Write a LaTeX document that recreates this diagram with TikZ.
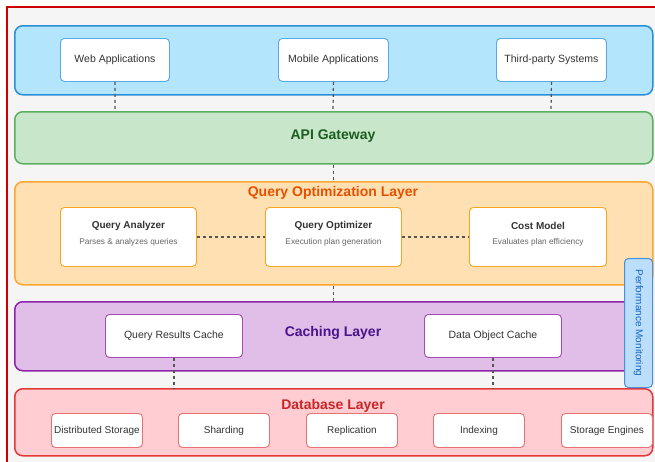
\documentclass[tikz,border=0pt]{standalone}
\usepackage{fontspec}
\setmainfont{Liberation Sans}
\begin{document}
\begin{tikzpicture}[x=1pt,y=-1pt,
  layer/.style={draw, line width=1.5pt, rounded corners=8pt, inner sep=0pt, anchor=north west},
  item/.style={draw, line width=0.9pt, rounded corners=4pt, fill=white, inner sep=0pt,
    anchor=north west, align=center, text=textdark, font=\fontsize{10.5}{12}\selectfont},
  dbitem/.style={item, draw=rbox, minimum width=91pt, minimum height=34pt, font=\fontsize{10}{12}\selectfont},
  title/.style={font=\bfseries\fontsize{14}{16}\selectfont, inner sep=0pt},
  link/.style={draw=linkgray, line width=1.2pt, dash pattern=on 3pt off 3pt}
]
\definecolor{framered}{HTML}{CC0000}
\definecolor{bgray}{HTML}{F5F5F5}
\definecolor{textdark}{HTML}{333333}
\definecolor{textsub}{HTML}{666666}
\definecolor{linkgray}{HTML}{555555}
\definecolor{cfill}{HTML}{B3E5FC}\definecolor{cline}{HTML}{2A8FD6}\definecolor{cbox}{HTML}{5AA9E0}
\definecolor{gfill}{HTML}{C8E6C9}\definecolor{gline}{HTML}{5CAF60}\definecolor{gtext}{HTML}{1B5E20}
\definecolor{ofill}{HTML}{FFE0B2}\definecolor{oline}{HTML}{FFA733}\definecolor{obox}{HTML}{F5A623}\definecolor{otext}{HTML}{E65100}
\definecolor{pfill}{HTML}{E1BEE7}\definecolor{pline}{HTML}{8E24AA}\definecolor{pbox}{HTML}{AB47BC}\definecolor{ptext}{HTML}{4A148C}
\definecolor{rfill}{HTML}{FFCDD2}\definecolor{rline}{HTML}{E53935}\definecolor{rbox}{HTML}{E57373}\definecolor{rtext}{HTML}{C62828}
\definecolor{mfill}{HTML}{BBDEFB}\definecolor{mline}{HTML}{4A90D9}\definecolor{mtext}{HTML}{1565C0}

\useasboundingbox (0,0) rectangle (655,461);
\begin{scope}
\clip (0,0) rectangle (655,461);
\fill[white] (0,0) rectangle (655,461);
\draw[framered, line width=2pt, fill=bgray] (7,7) rectangle (680,490);
\end{scope}

% client layer
\node[layer, draw=cline, fill=cfill, minimum width=638pt, minimum height=69pt] (clients) at (14,25) {};
\node[item, draw=cbox, minimum width=109pt, minimum height=43pt] (web) at (60,38) {Web Applications};
\node[item, draw=cbox, minimum width=110pt, minimum height=43pt] (mobile) at (278,38) {Mobile Applications};
\node[item, draw=cbox, minimum width=110pt, minimum height=43pt] (third) at (496,38) {Third-party Systems};

% gateway
\node[layer, draw=gline, fill=gfill, minimum width=638pt, minimum height=52pt] (gateway) at (14,111) {};
\node[title, text=gtext] (gwtitle) at (333,136.5) {API Gateway};

% query optimization layer
\node[layer, draw=oline, fill=ofill, minimum width=638pt, minimum height=103pt] (qol) at (14,181) {};
\node[title, text=otext] (qoltitle) at (333,192.5) {Query Optimization Layer};
\node[item, draw=obox, minimum width=136pt, minimum height=59pt] (analyzer) at (60,207) {};
\node[item, draw=obox, minimum width=136pt, minimum height=59pt] (optimizer) at (265,207) {};
\node[item, draw=obox, minimum width=137pt, minimum height=59pt] (cost) at (469,207) {};
\foreach \b/\t/\s in {analyzer/Query Analyzer/Parses \& analyzes queries,
                      optimizer/Query Optimizer/Execution plan generation,
                      cost/Cost Model/Evaluates plan efficiency}{
  \node[inner sep=0pt, text=textdark, font=\bfseries\fontsize{10}{12}\selectfont] (\b-t) at ([yshift=-19pt]\b.north) {\t};
  \node[inner sep=0pt, text=textsub, font=\fontsize{8.3}{10}\selectfont] (\b-s) at ([yshift=-35pt]\b.north) {\s};
}

% caching layer
\node[layer, draw=pline, fill=pfill, minimum width=626pt, minimum height=69pt] (cache) at (14,301) {};
\node[title, text=ptext] (cachetitle) at (333,332.5) {Caching Layer};
\node[item, draw=pbox, minimum width=137pt, minimum height=43pt] (qrc) at (105,314) {Query Results Cache};
\node[item, draw=pbox, minimum width=137pt, minimum height=43pt] (doc) at (424,314) {Data Object Cache};

% database layer
\node[layer, draw=rline, fill=rfill, minimum width=638pt, minimum height=67pt] (db) at (14,388) {};
\node[title, text=rtext] (dbtitle) at (333,405.5) {Database Layer};
\node[dbitem] (dist) at (51,413) {Distributed Storage};
\node[dbitem] (shard) at (178,413) {Sharding};
\node[dbitem] (repl) at (306,413) {Replication};
\node[dbitem] (index) at (433,413) {Indexing};
\node[dbitem] (engines) at (561,413) {Storage Engines};

% connectors
\coordinate (gwtop1) at (115,111);
\coordinate (gwtop2) at (333,111);
\coordinate (gwtop3) at (551,111);
\draw[link] (web.south) -- (gwtop1);
\draw[link] (mobile.south) -- (gwtop2);
\draw[link] (third.south) -- (gwtop3);
\draw[link] (gateway.south) -- (qol.north -| gateway.south);
\draw[link] (analyzer.east) -- (optimizer.west);
\draw[link] (optimizer.east) -- (cost.west);
\draw[link] (qol.south -| gateway.south) -- (cache.north -| gateway.south);
\draw[link] (qrc.south) -- (qrc.south |- db.north);
\draw[link] (doc.south) -- (doc.south |- db.north);

% monitoring side panel
\node[draw=mline, fill=mfill, line width=1pt, rounded corners=4pt, minimum width=28pt, minimum height=129pt,
      inner sep=0pt, anchor=north west] (monitor) at (624,258) {};
\node[inner sep=0pt, text=mtext, rotate=-90, font=\fontsize{10}{12}\selectfont] (montext) at (monitor.center) {Performance Monitoring};
\end{tikzpicture}
\end{document}
